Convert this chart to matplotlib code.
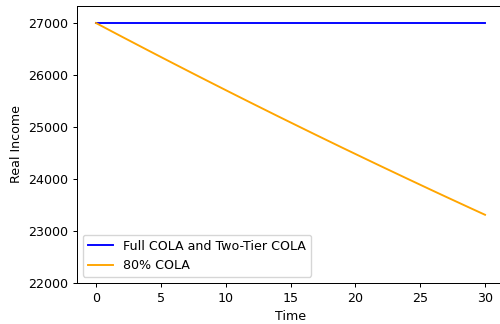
import matplotlib
matplotlib.use("Agg")
import matplotlib.pyplot as plt

years = list(range(31))
full_cola = [27000] * 31
cola_80 = [27000, 26868, 26737, 26607, 26477, 26348,
           26219.5, 26091.6, 25964.3, 25837.7, 25711.5,
           25586, 25461, 25337, 25213, 25090.5,
           24968, 24846, 24725, 24604, 24484.5,
           24365, 24246, 24128, 24010, 23893,
           23776, 23660, 23545, 23430, 23316]

s = 0.91
plt.rcParams.update({
    "font.size": 10 * s,
    "lines.linewidth": 1.5 * s,
    "axes.linewidth": 0.8 * s,
    "xtick.major.size": 3.5 * s,
    "ytick.major.size": 3.5 * s,
    "xtick.major.width": 0.8 * s,
    "ytick.major.width": 0.8 * s,
    "xtick.major.pad": 3.5 * s,
    "ytick.major.pad": 3.5 * s,
    "axes.labelpad": 4.0 * s,
})

fig = plt.figure(figsize=(5, 3.24), dpi=100)
ax = fig.add_axes([0.153, 0.1256, 0.856, 0.8574])
ax.plot(years, full_cola, color="blue", label="Full COLA and Two-Tier COLA")
ax.plot(years, cola_80, color="orange", label="80% COLA")
ax.set_xlim(-1.5, 31.5)
ax.set_ylim(22000, 27336)
ax.set_xticks([0, 5, 10, 15, 20, 25, 30])
ax.set_yticks([22000, 23000, 24000, 25000, 26000, 27000])
ax.set_xlabel("Time")
ax.set_ylabel("Real Income")
ax.legend(loc="lower left")
fig.savefig("out.png", dpi=100)
